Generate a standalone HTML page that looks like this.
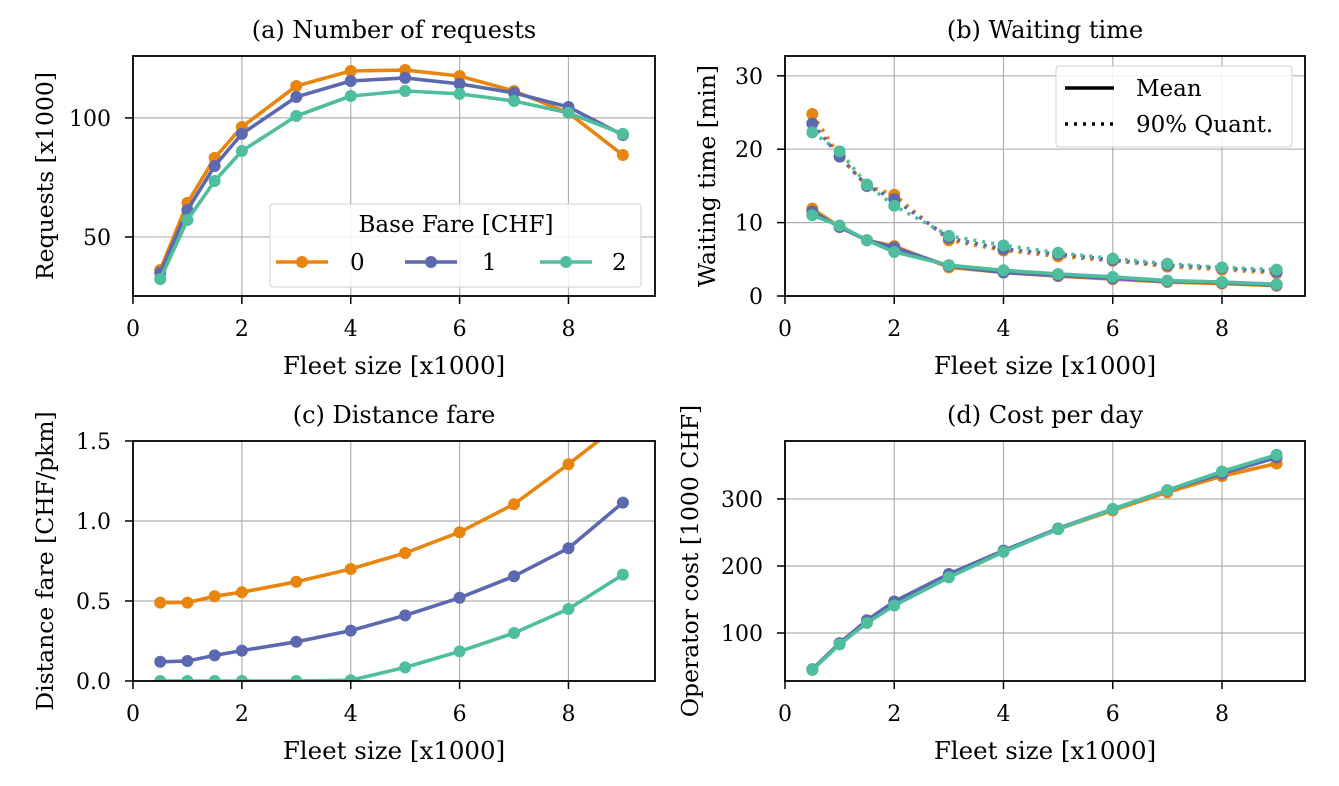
<!DOCTYPE html>
<html><head><meta charset="utf-8"><style>
body{margin:0;background:#fff}
text{font-family:"DejaVu Serif","Liberation Serif",serif;fill:#000}
</style></head><body>
<svg id="fig" width="1339" height="781" xmlns="http://www.w3.org/2000/svg"></svg>
<script>
const fleet=[0.5,1,1.5,2,3,4,5,6,7,8,9];
const fares=['0','1','2'];
const colors=['#e8850f','#5c68b0','#4fbe9e'];
const reqData=[[36.1,64.3,83.2,96.2,113.4,119.7,120.1,117.6,111.3,102.1,84.4],[34.9,61.3,79.8,93.3,108.8,115.5,116.8,114.3,110.5,104.6,92.8],[32.3,57.1,73.5,86.1,100.8,109.2,111.3,110.1,107.1,102.1,93.3]];
const waitMean=[[11.9,9.4,7.6,6.8,3.9,3.2,2.7,2.3,1.9,1.7,1.4],[11.5,9.4,7.6,6.6,4.1,3.2,2.8,2.4,2.0,1.8,1.5],[11.0,9.6,7.6,6.0,4.2,3.5,3.0,2.6,2.1,1.9,1.6]];
const waitQ90=[[24.8,19.0,15.0,13.8,7.6,6.2,5.4,4.8,4.0,3.6,3.1],[23.5,19.0,15.0,13.2,7.9,6.4,5.7,4.9,4.2,3.8,3.3],[22.3,19.7,15.2,12.3,8.2,6.9,5.9,5.1,4.4,3.9,3.6]];
const distFare=[[0.49,0.49,0.53,0.555,0.62,0.70,0.80,0.93,1.105,1.355,1.62],[0.12,0.125,0.16,0.19,0.245,0.315,0.41,0.52,0.655,0.83,1.115],[0,0,0,0,0,0.005,0.085,0.185,0.30,0.45,0.665]];
const cost=[[45,84,117,145,186,222,255,283,310,334,353],[46,85,119,147,188,223,256,285,313,338,362],[45,83,115,141,183,221,255,285,313,341,366]];
const xTicks=[0,2,4,6,8];
const NS='http://www.w3.org/2000/svg';
const svg=document.getElementById('fig');
function el(tag,attrs,parent){const e=document.createElementNS(NS,tag);for(const k in attrs)e.setAttribute(k,attrs[k]);(parent||svg).appendChild(e);return e;}
function txt(s,x,y,attrs,parent){const t=el('text',Object.assign({x:x,y:y,'font-size':22},attrs||{}),parent);t.textContent=s;return t;}
let clipN=0;
function panel(o){
  const g=el('g',{});
  
  
  const X=v=>o.x0+(v-o.xmin)/(o.xmax-o.xmin)*(o.x1-o.x0);
  const Y=v=>o.y1-(v-o.ymin)/(o.ymax-o.ymin)*(o.y1-o.y0);
  const cid='c'+(clipN++);
  const cp=el('clipPath',{id:cid},g);el('rect',{x:o.x0,y:o.y0,width:o.x1-o.x0,height:o.y1-o.y0},cp);
  xTicks.forEach(t=>{const x=X(t);
    const gl=el('line',{x1:x,x2:x,y1:o.y0,y2:o.y1,stroke:'#b0b0b0','stroke-width':1.2},g);
    
    el('line',{x1:x,x2:x,y1:o.y1,y2:o.y1+8,stroke:'#000','stroke-width':1.5},g);
    const tl=txt(String(t),x,o.y1+40,{'text-anchor':'middle'},g);
    });
  o.yTicks.forEach((t,i)=>{const y=Y(t);
    const gl=el('line',{x1:o.x0,x2:o.x1,y1:y,y2:y,stroke:'#b0b0b0','stroke-width':1.2},g);
    
    el('line',{x1:o.x0-8,x2:o.x0,y1:y,y2:y,stroke:'#000','stroke-width':1.5},g);
    const tl=txt(o.yLabels[i],o.x0-22,y+8,{'text-anchor':'end'},g);
    });
  const dg=el('g',{'clip-path':'url(#'+cid+')'},g);
  o.series.forEach(s=>{
    s.data.forEach((arr,k)=>{
      const pts=arr.map((v,i)=>X(fleet[i])+','+Y(v)).join(' ');
      const pl=el('polyline',{points:pts,fill:'none',stroke:colors[k],'stroke-width':3.6,'stroke-linejoin':'round','stroke-dasharray':s.dash||'none'},dg);
      
      
      arr.forEach((v,i)=>{const c=el('circle',{cx:X(fleet[i]),cy:Y(v),r:6,fill:colors[k]},dg);
        
        });
    });
  });
  const fr=el('rect',{x:o.x0,y:o.y0,width:o.x1-o.x0,height:o.y1-o.y0,fill:'none',stroke:'#000','stroke-width':1.8},g);
  
  const ti=txt(o.title,(o.x0+o.x1)/2,o.y0-18,{'text-anchor':'middle','font-size':24},g);
  
  const xl=txt('Fleet size [x1000]',(o.x0+o.x1)/2,o.y1+78,{'text-anchor':'middle','font-size':24.5},g);
  
  const cy=(o.y0+o.y1)/2;
  const yl=txt(o.ylabel,o.ylx,cy,{'text-anchor':'middle','font-size':23.5,transform:'rotate(-90 '+o.ylx+' '+cy+')'},g);
  
  return g;
}
panel({name:'panel-requests',x0:133,x1:655,y0:56,y1:296,xmin:0,xmax:9.59,ymin:25.2,ymax:126,yTicks:[50,100],yLabels:['50','100'],title:'(a) Number of requests',ylabel:'Requests [x1000]',ylx:53,series:[{data:reqData}]});
panel({name:'panel-waiting',x0:785,x1:1305,y0:56,y1:296,xmin:0,xmax:9.52,ymin:0,ymax:32.7,yTicks:[0,10,20,30],yLabels:['0','10','20','30'],title:'(b) Waiting time',ylabel:'Waiting time [min]',ylx:715,series:[{data:waitQ90,dash:'3 6',tag:'q90'},{data:waitMean,tag:'mean'}]});
panel({name:'panel-distance-fare',x0:133,x1:655,y0:441,y1:681,xmin:0,xmax:9.59,ymin:0,ymax:1.5,yTicks:[0,0.5,1,1.5],yLabels:['0.0','0.5','1.0','1.5'],title:'(c) Distance fare',ylabel:'Distance fare [CHF/pkm]',ylx:53,series:[{data:distFare}]});
panel({name:'panel-cost',x0:785,x1:1305,y0:441,y1:681,xmin:0,xmax:9.52,ymin:28.4,ymax:386.5,yTicks:[100,200,300],yLabels:['100','200','300'],title:'(d) Cost per day',ylabel:'Operator cost [1000 CHF]',ylx:698,series:[{data:cost}]});
// legend (a)
const la=el('g',{});


el('rect',{x:270,y:204,width:371,height:83,fill:'#fff','fill-opacity':0.85,stroke:'#d0d0d0','stroke-width':1,rx:3},la);
txt('Base Fare [CHF]',456,232,{'text-anchor':'middle','font-size':23},la);
[[276,350],[405,482],[540,612]].forEach((p,k)=>{
  const e=el('g',{},la);
  
  
  el('line',{x1:p[0],x2:p[0]+52,y1:262,y2:262,stroke:colors[k],'stroke-width':3.6},e);
  el('circle',{cx:p[0]+26,cy:262,r:6,fill:colors[k]},e);
  txt(fares[k],p[1],270,{'font-size':23},e);
});
// legend (b)
const lb=el('g',{});


el('rect',{x:1056,y:66,width:236,height:81,fill:'#fff','fill-opacity':0.85,stroke:'#d0d0d0','stroke-width':1,rx:3},lb);
el('line',{x1:1065,x2:1114,y1:88,y2:88,stroke:'#000','stroke-width':3.6},lb);
txt('Mean',1136,96,{'font-size':23},lb);
el('line',{x1:1065,x2:1114,y1:124,y2:124,stroke:'#000','stroke-width':3.6,'stroke-dasharray':'3 6'},lb);
txt('90% Quant.',1136,132,{'font-size':23},lb);
</script>
</body></html>
